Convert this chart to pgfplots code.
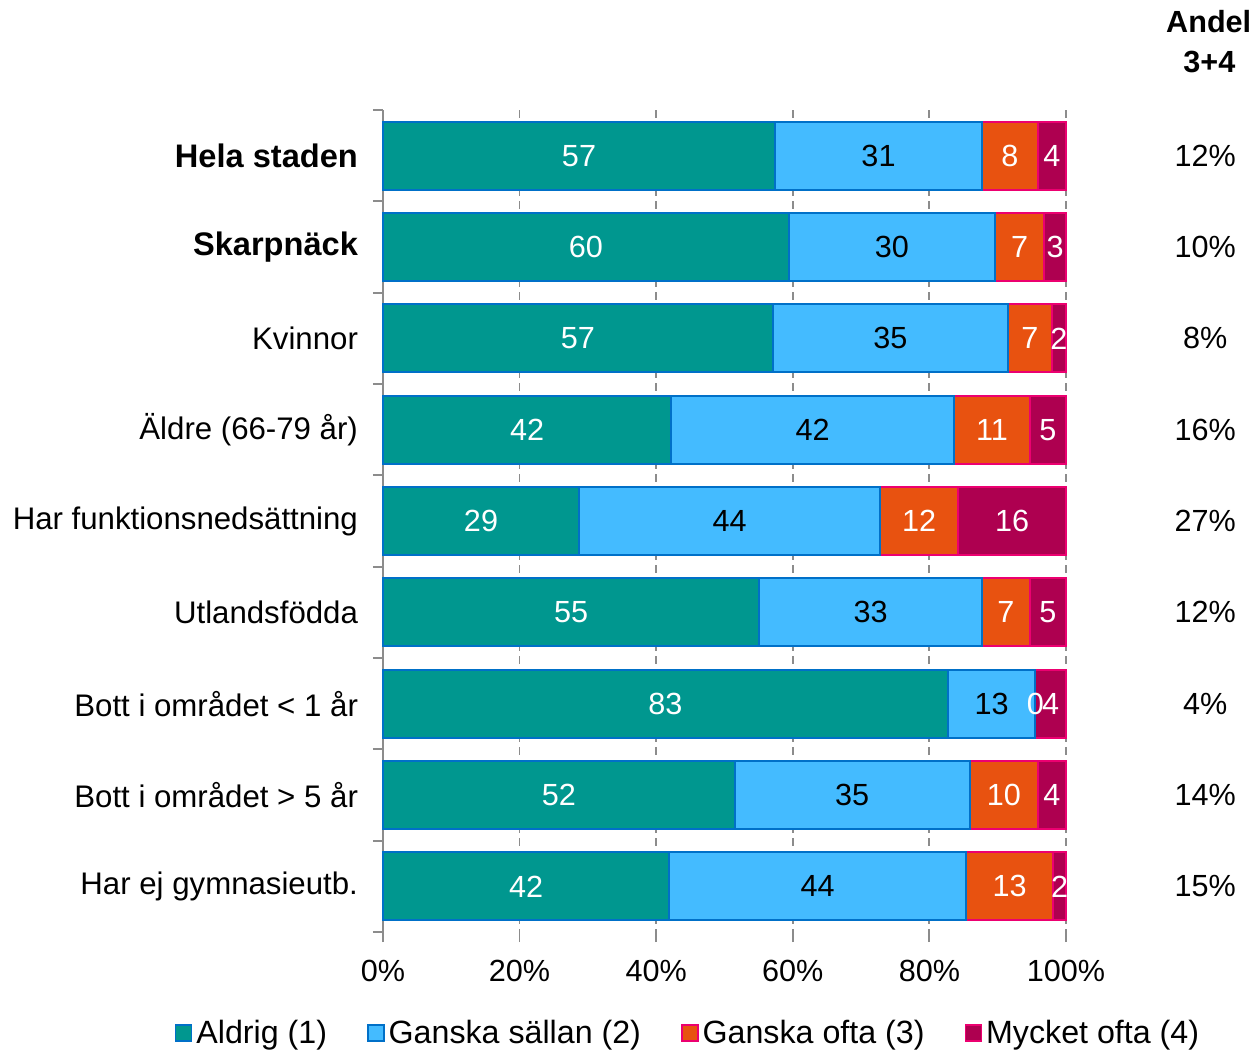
\documentclass[border=0pt]{standalone}
\usepackage{pgfplots}
\usepackage{pgfplotstable}
\pgfplotsset{compat=1.18}
\usepackage{fontspec}
\setmainfont{Liberation Sans}
\newcommand\lbl{\fontsize{15.3}{18}\selectfont}
\newcommand\ylbl{\fontsize{15.6}{18}\selectfont}
\newcommand\ybold{\fontsize{16.3}{19}\selectfont\bfseries}
\newcommand\leg{\fontsize{16.1}{19}\selectfont}
\definecolor{cTeal}{RGB}{0,151,143}
\definecolor{cLight}{RGB}{68,187,255}
\definecolor{cBlueB}{RGB}{0,112,200}
\definecolor{cOrange}{RGB}{232,82,16}
\definecolor{cPinkB}{RGB}{236,0,112}
\definecolor{cCrim}{RGB}{174,0,80}
\definecolor{axgray}{RGB}{140,140,140}

\pgfplotstableread{
y w lab
0 57.4 57
1 59.4 60
2 57.1 57
3 42.2 42
4 28.7 29
5 55.1 55
6 82.7 83
7 51.5 52
8 41.9 42
}\sOne
\pgfplotstableread{
y w lab
0 30.3 31
1 30.2 30
2 34.4 35
3 41.4 42
4 44.1 44
5 32.6 33
6 12.8 13
7 34.4 35
8 43.5 44
}\sTwo
\pgfplotstableread{
y w lab
0 8.2 8
1 7.2 7
2 6.4 7
3 11.1 11
4 11.4 12
5 7.0 7
6 0.01 0
7 10.0 10
8 12.7 13
}\sThree
\pgfplotstableread{
y w lab
0 4.1 4
1 3.2 3
2 2.1 2
3 5.3 5
4 15.8 16
5 5.3 5
6 4.5 4
7 4.1 4
8 1.9 2
}\sFour

\pgfplotsset{seglabel/.style={nodes near coords, point meta=explicit symbolic,
  every node near coord/.append style={anchor=center, text=#1, font=\lbl}}}

\begin{document}
\begin{tikzpicture}
\useasboundingbox (-191.5pt,-59.5pt) rectangle (438.5pt,466pt);
\begin{axis}[name=ax, at={(0,0)}, anchor=south west,
  scale only axis, width=341.5pt, height=411pt,
  xbar stacked, bar width=34pt,
  xmin=0, xmax=100, ymin=-0.5, ymax=8.5, y dir=reverse,
  clip=false,
  axis lines*=left,
  x axis line style={draw=none},
  y axis line style={draw=axgray, line width=0.9pt},
  xtick={0,20,...,100},
  xticklabels={0\%,20\%,40\%,60\%,80\%,100\%},
  ytick={0,...,8},
  yticklabels={{\ybold Hela staden},{\ybold Skarpnäck},Kvinnor,Äldre (66-79 år),Har funktionsnedsättning,Utlandsfödda,Bott i området < 1 år,Bott i området > 5 år,Har ej gymnasieutb.},
  minor xtick={0,20,...,100},
  minor ytick={-0.5,0.5,...,8.5},
  major tick length=0pt, minor tick length=5pt, tick align=outside,
  tick style={draw=axgray, line width=0.9pt},
  xmajorgrids,
  major grid style={dash pattern=on 4pt off 2.5pt, draw=axgray, line width=0.9pt},
  xticklabel style={yshift=-10.5pt, font=\lbl},
  yticklabel style={xshift=-9pt, font=\ylbl},
  legend style={at={(0.448,-0.123)}, anchor=center, legend columns=4, draw=none, font=\leg,
    /tikz/every even column/.append style={column sep=18pt}},
  legend image code/.code={\draw[#1, line width=0.8pt] (0pt,-4pt) rectangle (8pt,4pt);},
]
\addplot[fill=cTeal, draw=cBlueB, line width=0.9pt, seglabel=white] table[x=w, y=y, meta=lab] {\sOne};
\addplot[fill=cLight, draw=cBlueB, line width=0.9pt, seglabel=black] table[x=w, y=y, meta=lab] {\sTwo};
\addplot[fill=cOrange, draw=cPinkB, line width=0.9pt, seglabel=white] table[x=w, y=y, meta=lab] {\sThree};
\addplot[fill=cCrim, draw=cPinkB, line width=0.9pt, seglabel=white] table[x=w, y=y, meta=lab] {\sFour};
\legend{Aldrig (1),Ganska sällan (2),Ganska ofta (3),Mycket ofta (4)}
\node[font=\lbl] at (axis cs:120.4,0) {12\%};
\node[font=\lbl] at (axis cs:120.4,1) {10\%};
\node[font=\lbl] at (axis cs:120.4,2) {8\%};
\node[font=\lbl] at (axis cs:120.4,3) {16\%};
\node[font=\lbl] at (axis cs:120.4,4) {27\%};
\node[font=\lbl] at (axis cs:120.4,5) {12\%};
\node[font=\lbl] at (axis cs:120.4,6) {4\%};
\node[font=\lbl] at (axis cs:120.4,7) {14\%};
\node[font=\lbl] at (axis cs:120.4,8) {15\%};
\node[font=\lbl\bfseries] at ([yshift=44pt]axis cs:120.9,-0.5) {Andel};
\node[font=\lbl\bfseries] at ([yshift=24pt]axis cs:121.0,-0.5) {3+4};
\end{axis}
\end{tikzpicture}
\end{document}
